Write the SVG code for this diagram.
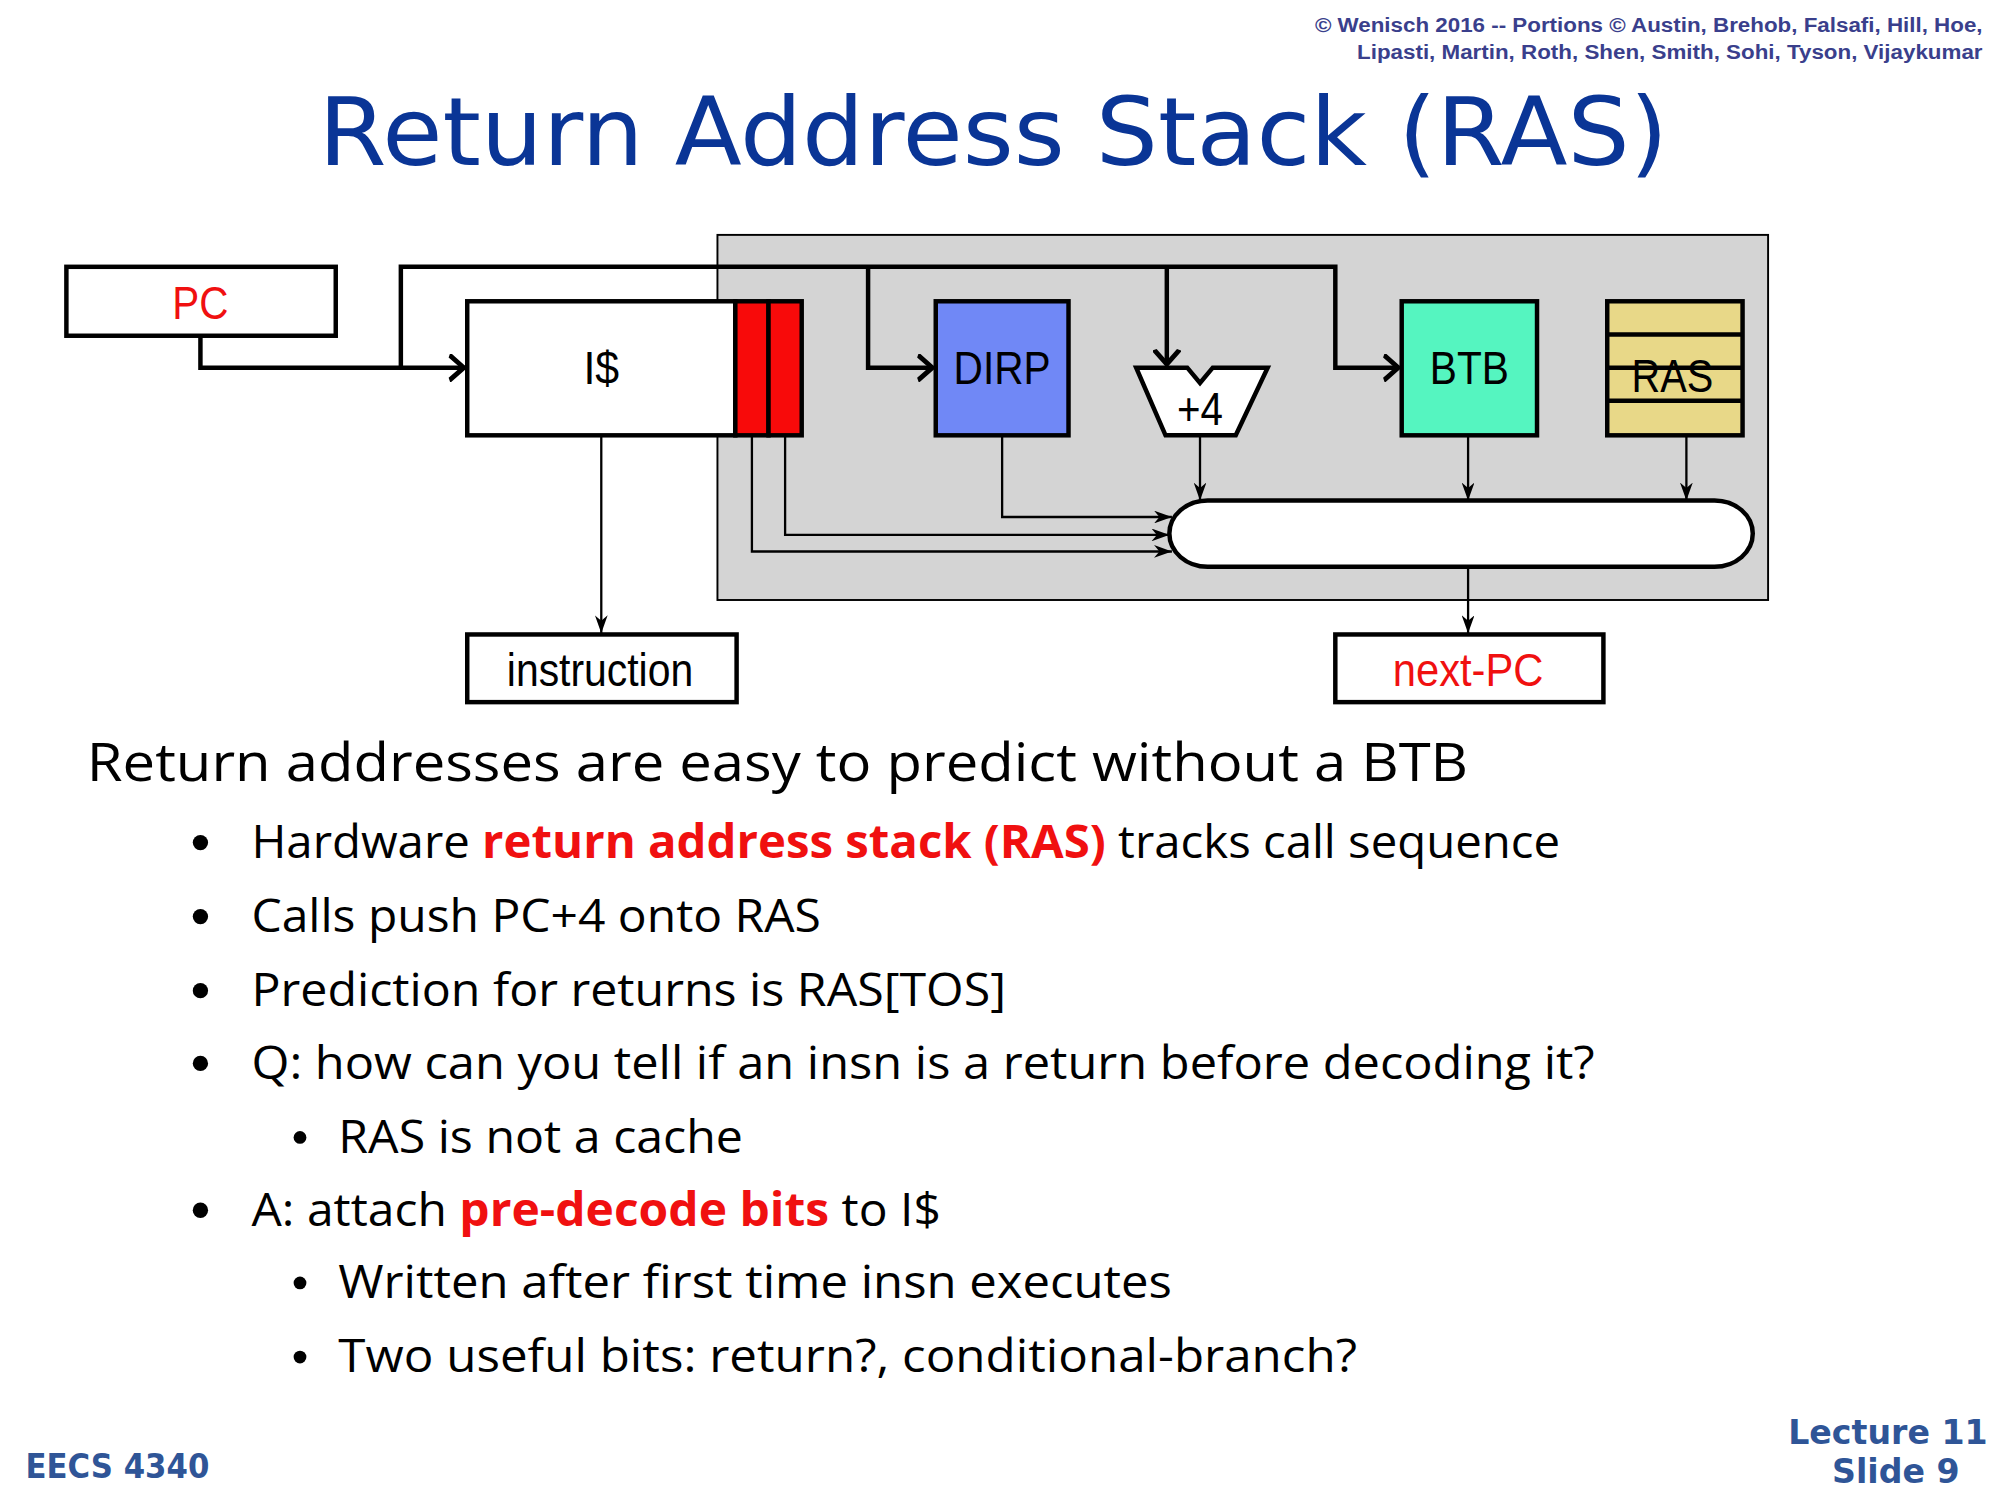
<svg xmlns="http://www.w3.org/2000/svg" width="2000" height="1500" viewBox="0 0 2000 1500">
<defs>
<marker id="ah" viewBox="0 0 10 10" refX="10" refY="5" markerWidth="14" markerHeight="10" preserveAspectRatio="none" markerUnits="userSpaceOnUse" orient="auto"><path d="M0,0 L10,5 L0,10 L3,5 z" fill="#000"/></marker>
<marker id="ahb" viewBox="0 0 10 10" refX="9.5" refY="5" markerWidth="14" markerHeight="22" preserveAspectRatio="none" markerUnits="userSpaceOnUse" orient="auto"><path d="M1,0.5 L9,5 L1,9.5" fill="none" stroke="#000" stroke-width="2"/></marker>
</defs>
<style>
.box{stroke:#000;stroke-width:3.5}
.lbl{font-family:"Liberation Sans",Arial,sans-serif;font-size:36px;text-anchor:middle}
.thick{fill:none;stroke:#000;stroke-width:3.5}
.thin{fill:none;stroke:#000;stroke-width:1.8}
.body{font-family:"Open Sans","Noto Sans",sans-serif;fill:#000}
.red{fill:#F01010;font-weight:bold}
</style>
<rect width="2000" height="1500" fill="#fff"/>
<g transform="scale(1.2766)">
<g id="header" font-family="Liberation Sans,Arial,sans-serif" font-weight="bold" font-size="16" fill="#3A3F8C" text-anchor="end">
<text x="1553" y="25" textLength="523" lengthAdjust="spacingAndGlyphs">© Wenisch 2016 -- Portions © Austin, Brehob, Falsafi, Hill, Hoe,</text>
<text x="1553" y="46" textLength="490" lengthAdjust="spacingAndGlyphs">Lipasti, Martin, Roth, Shen, Smith, Sohi, Tyson, Vijaykumar</text>
</g>
<text x="778" y="129" text-anchor="middle" font-family="DejaVu Sans,sans-serif" font-size="74" fill="#0A3596" textLength="1057" lengthAdjust="spacingAndGlyphs">Return Address Stack (RAS)</text>
<rect id="frontend" x="562" y="184" width="823" height="286" fill="#d4d4d4" stroke="#000" stroke-width="1.5"/>
<g id="connectors">
<path class="thick" d="M157,263 V288 H364" marker-end="url(#ahb)"/>
<path class="thick" d="M314,288 V209 H1046 V288 H1096" marker-end="url(#ahb)"/>
<path class="thick" d="M680,209 V288 H731" marker-end="url(#ahb)"/>
<path class="thick" d="M914,209 V286" marker-end="url(#ahb)"/>
<path class="thin" d="M471,341 V496" marker-end="url(#ah)"/>
<path class="thin" d="M785,341 V405 H918" marker-end="url(#ah)"/>
<path class="thin" d="M615,341 V419 H916" marker-end="url(#ah)"/>
<path class="thin" d="M589,341 V432 H918" marker-end="url(#ah)"/>
<path class="thin" d="M940,341 V392" marker-end="url(#ah)"/>
<path class="thin" d="M1150,341 V392" marker-end="url(#ah)"/>
<path class="thin" d="M1321,341 V392" marker-end="url(#ah)"/>
<path class="thin" d="M1150,444 V496" marker-end="url(#ah)"/>
</g>
<g id="pc"><rect class="box" x="52" y="209" width="211" height="54" fill="#fff"/><text class="lbl" x="157" y="250" fill="#F01010" textLength="44" lengthAdjust="spacingAndGlyphs">PC</text></g>
<g id="icache"><rect class="box" x="366" y="236" width="210" height="105" fill="#fff"/><rect class="box" x="576" y="236" width="26" height="105" fill="#F80A0A"/><rect class="box" x="602" y="236" width="26" height="105" fill="#F80A0A"/><text class="lbl" x="471" y="301" textLength="28" lengthAdjust="spacingAndGlyphs">I$</text></g>
<g id="dirp"><rect class="box" x="733" y="236" width="104" height="105" fill="#7088F6"/><text class="lbl" x="785" y="301" textLength="76" lengthAdjust="spacingAndGlyphs">DIRP</text></g>
<g id="plus4"><path class="box" d="M890,288 H930 L940,300 L950,288 H993 L968,341 H913 Z" fill="#fff"/><text class="lbl" x="940" y="333" textLength="36" lengthAdjust="spacingAndGlyphs">+4</text></g>
<g id="btb"><rect class="box" x="1098" y="236" width="106" height="105" fill="#55F5C0"/><text class="lbl" x="1151" y="301" textLength="62" lengthAdjust="spacingAndGlyphs">BTB</text></g>
<g id="ras"><rect class="box" x="1259" y="236" width="106" height="105" fill="#E8D888"/><path class="thick" d="M1259,262 H1365 M1259,288 H1365 M1259,314 H1365"/><text class="lbl" x="1310" y="307" textLength="64" lengthAdjust="spacingAndGlyphs">RAS</text></g>
<g id="mux"><rect class="box" x="916" y="392" width="457" height="52" rx="30" ry="26" fill="#fff"/></g>
<g id="instruction"><rect class="box" x="366" y="497" width="211" height="53" fill="#fff"/><text class="lbl" x="470" y="537" textLength="146" lengthAdjust="spacingAndGlyphs">instruction</text></g>
<g id="nextpc"><rect class="box" x="1046" y="497" width="210" height="53" fill="#fff"/><text class="lbl" x="1150" y="537" fill="#F01010" textLength="118" lengthAdjust="spacingAndGlyphs">next-PC</text></g>
<g id="text" class="body">
<text x="68" y="612" font-size="42" textLength="1082" lengthAdjust="spacingAndGlyphs">Return addresses are easy to predict without a BTB</text>
<g font-size="36">
<circle cx="157" cy="660" r="6"/><text x="197" y="672" textLength="1025" lengthAdjust="spacingAndGlyphs">Hardware <tspan class="red">return address stack (RAS)</tspan> tracks call sequence</text>
<circle cx="157" cy="718" r="6"/><text x="197" y="730" textLength="446" lengthAdjust="spacingAndGlyphs">Calls push PC+4 onto RAS</text>
<circle cx="157" cy="776" r="6"/><text x="197" y="788" textLength="591" lengthAdjust="spacingAndGlyphs">Prediction for returns is RAS[TOS]</text>
<circle cx="157" cy="833" r="6"/><text x="197" y="845" textLength="1052" lengthAdjust="spacingAndGlyphs">Q: how can you tell if an insn is a return before decoding it?</text>
<circle cx="235" cy="891" r="5"/><text x="265" y="903" textLength="317" lengthAdjust="spacingAndGlyphs">RAS is not a cache</text>
<circle cx="157" cy="948" r="6"/><text x="197" y="960" textLength="540" lengthAdjust="spacingAndGlyphs">A: attach <tspan class="red">pre-decode bits</tspan> to I$</text>
<circle cx="235" cy="1005" r="5"/><text x="265" y="1017" textLength="653" lengthAdjust="spacingAndGlyphs">Written after first time insn executes</text>
<circle cx="235" cy="1063" r="5"/><text x="265" y="1075" textLength="798" lengthAdjust="spacingAndGlyphs">Two useful bits: return?, conditional-branch?</text>
</g>
</g>
<g id="footer" font-family="DejaVu Sans,sans-serif" font-weight="bold" font-size="26" fill="#2F5597">
<text x="20" y="1158" textLength="144" lengthAdjust="spacingAndGlyphs">EECS 4340</text>
<text x="1557" y="1131" text-anchor="end">Lecture 11</text>
<text x="1535" y="1162" text-anchor="end">Slide 9</text>
</g>
</g>
</svg>
